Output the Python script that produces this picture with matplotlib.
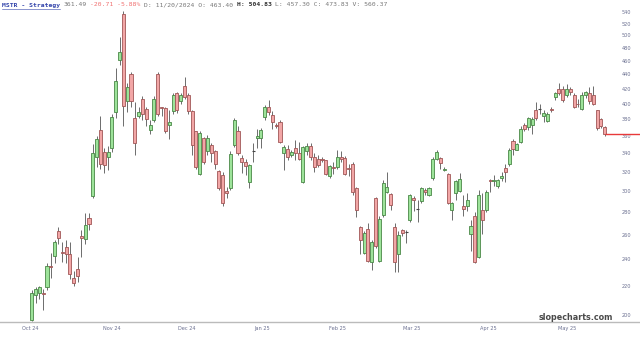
import matplotlib
matplotlib.use("Agg")
import matplotlib.pyplot as plt
import numpy as np

# ---- data (daily OHLC, MSTR) ----
opens = [197,213.5,215,215,219,235,243,263,246,250,244,226,232.5,259,256.5,274.5,295,336,367,341,
         336,346,389,462,536,403,441,382,384,406,393,367,379,440,395,394,373,390,414,403,
         424,412,390,365,318,357,342,349,342,321,316,300,303,349,366,335,330,309,343,357,
         357,383,395,385,373,377,340,345,338,346,340,309,342,348,336,333,333,332,315,325,
         325,336,335,324,328,303,267,245,265,238,293,239,278,299,297,267,244,264,262,273,
         293,283,291,301,296,313,333,335,322,318,282,298,300,286,286,261,277,242,282,282,
         311,310,305,313,324,328,354,344,353,373,370,373,392,393,384,378,393,409,419,420,
         412,419,411,400,393,412,414,412,391,380,370]
highs = [217,219,220,218,237,245,256,267,254,256,254,231,241.5,264.5,279,279,350,360,384,346,
         348,386,449,498,542,428,444,402,396,410,396,379,410,444,395.5,396,392,414,416,414,
         437,414,392,366,365,359,361,351,344,321.5,320,304,342,382,371,338,334,328,352,368,
         369,398,404,390,375,379,349,349,344,355,353,348,351,351,340,338,336,332.5,327,330,
         344,342,337,328,330,304,268,263,270,256,294,277,311,320,298,270,263,265,264,297,
         295,292,304,303,304,336,343,336,325,319,289.5,311,319,296,298,273,280,301,298,301,
         312,316,312,320,328,346,356,351,371,375,383,383,402,400,391,389,396,416,428,424,
         426,422,414,406,416,417,422,424,392,381,371]
lows = [196,208,211,203,217,226,237,252,238,237,225,220,223,241.5,252,264,293,325,323,319,
        322,341,381,454,372,389,395,338,381,379,372,362,377,384,384,363,356,387,388,399,
        406,387,338,323,316,328,338,330,323,301,286,293,301,347,338,319,316,303,330,346,
        346,379,385,368,369,351,322,332,336,332,332,308,338,332,320,325,330,316,313,318,
        323,330,316,315,296,276,244,244,238,232,249,238,276,298,282,230,230,259,253,271,
        281,271,289,296,295,311,332,323,321,288,273,292,299,277,281,247,237,241,261,280,
        299,305,303,310,309,326,338,343,351,365,367,362,379,387,376,376,389,404,411,402,
        408,411,394,396,392,407,400,398,367,369,360]
closes = [215,218,219,214,235,234,254,257,245,244,229,222,227,257.5,269,269.5,340,356,328,327,
          341,383,431,474,397,422,403,352,389,387,380,373,406,387,394,365,377,411,392,412,
          408,390,349,325,363,330,357,340,328,303,289,298.5,339,379,340,330,326,327,342.5,360,
          367,396,389,377,372,353,347,336,341,340,334,347,348,336,325,327,332,318,326,324,
          336,333,318,323,299,282,256,262,239,254,251,274,308,304,287,238,260,262,262.5,296,
          292,283.5,303,299,303,334,341,329,323,289,289,310,312,283,292,268,238,296,273,299,
          310,311,311,315,320,343,345,350,368,368,381,380,382,393.5,388,386,392,414,414,405,
          419,416,396,399,412,416,403,400,369,371,361.49]
month_labels = ["Oct 24", "Nov 24", "Dec 24", "Jan 25", "Feb 25", "Mar 25", "Apr 25", "May 25"]
price_ticks = [200, 220, 240, 260, 280, 300, 320, 340, 360, 380, 400, 420, 440, 460, 480, 500, 520, 540]
last_price = 361.49
header_parts = ["MSTR - Strategy", "361.49", "-20.71 -5.88%", "D: 11/20/2024 O: 463.40",
                "H: 504.83", "L: 457.30 C: 473.83 V: 560.37"]

# ---- layout ----
W, H = 640, 338
fig = plt.figure(figsize=(W / 100, H / 100), dpi=100)
ax = fig.add_axes([0, 16 / H, 1, 322 / H])

x0_px, step_px = 31.7, 3.82
xl = (0 - x0_px) / step_px
xr = (W - x0_px) / step_px
ax.set_xlim(xl, xr)
ax.set_yscale("log")
ax.set_ylim(540 * np.exp(-310 / 305), 540 * np.exp(12 / 305))

n = len(opens)
x = np.arange(n)
o = np.array(opens, float); hi = np.array(highs, float)
lo = np.array(lows, float); c = np.array(closes, float)
up = c >= o

wick_col = "#555555"
ax.vlines(x, lo, hi, color=wick_col, lw=0.6, zorder=2)
bw = 0.8
for i in range(n):
    b = min(o[i], c[i]); t = max(o[i], c[i])
    if t - b < 0.8:
        ax.hlines((o[i] + c[i]) / 2, i - bw / 2, i + bw / 2, color="#444444", lw=0.8, zorder=3)
        continue
    fc = "#9de39a" if up[i] else "#f2a6a6"
    ec = "#4a8747" if up[i] else "#a05656"
    ax.bar(i, t - b, bottom=b, width=bw, color=fc, edgecolor=ec, lw=0.6, zorder=3)

# last price line
ax.hlines(last_price, n - 1, xr, color="#e8393a", lw=1.0, zorder=4)

# axes styling
for s in ["top", "left", "right"]:
    ax.spines[s].set_visible(False)
ax.spines["bottom"].set_color("#bbbbbb")
ax.spines["bottom"].set_linewidth(1.0)

ax.yaxis.set_ticks_position("right")
ax.set_yticks(price_ticks)
ax.set_yticklabels([str(v) for v in price_ticks])
ax.yaxis.set_minor_locator(matplotlib.ticker.NullLocator())
ax.tick_params(axis="y", length=0, pad=-13, labelsize=3.6, labelcolor="#6a6f90")

tick_pos = [(px - x0_px) / step_px for px in [30, 112, 187, 262, 337, 412, 488, 567]]
ax.set_xticks(tick_pos)
ax.set_xticklabels(month_labels)
ax.tick_params(axis="x", length=0, pad=3, labelsize=3.6, labelcolor="#6a6f90")

# watermark
ax.text(576 / W, (322 - 317) / 322, "slopecharts.com", transform=ax.transAxes,
        ha="center", va="center", fontsize=5.8, fontweight="bold", color="#4a4a4a",
        family="DejaVu Sans")

# header (monospace, laid out by character count)
mono = "DejaVu Sans Mono"
fs = 4.6
char_px = 0.602 * fs * 100 / 72
y_h = 1 - 5 / H
styles = [dict(color="#3344aa", fontweight="bold"),
          dict(color="#777777"),
          dict(color="#f07070"),
          dict(color="#777777"),
          dict(color="#333333", fontweight="bold"),
          dict(color="#777777")]
xpos = 2.0
for part, st in zip(header_parts, styles):
    fig.text(xpos / W, y_h, part, fontsize=fs, family=mono, va="center", ha="left", **st)
    if part == header_parts[0]:
        fig.add_artist(plt.Line2D([xpos / W, (xpos + len(part) * char_px) / W],
                                  [1 - 9 / H, 1 - 9 / H], color="#3344aa", lw=0.4))
    xpos += (len(part) + 1) * char_px

fig.savefig("out.png", dpi=100)
